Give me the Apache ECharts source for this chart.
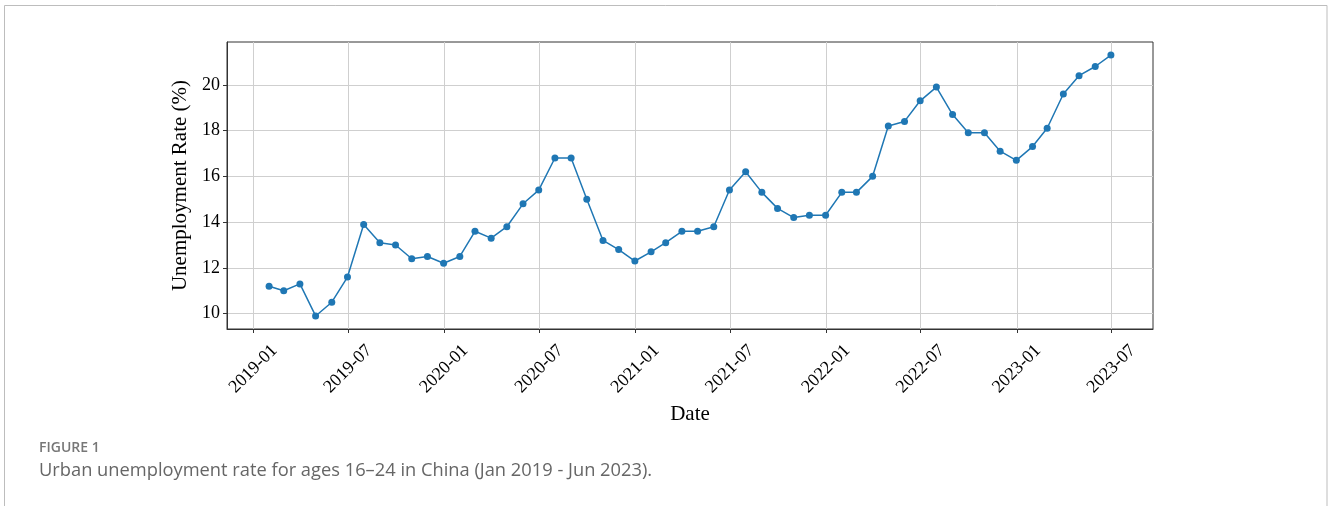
<!DOCTYPE html>
<html>
<head>
<meta charset="utf-8">
<script src="https://cdn.jsdelivr.net/npm/echarts@6/dist/echarts.min.js"></script>
<style>
  html, body { margin: 0; padding: 0; background: #fff; }
  #chart { width: 1328px; height: 506px; }
</style>
</head>
<body>
<div id="chart"></div>
<script>
// Months (each value is plotted at the month's end date, as in the source figure)
const months = [
  '2019-01','2019-02','2019-03','2019-04','2019-05','2019-06','2019-07','2019-08','2019-09','2019-10','2019-11','2019-12',
  '2020-01','2020-02','2020-03','2020-04','2020-05','2020-06','2020-07','2020-08','2020-09','2020-10','2020-11','2020-12',
  '2021-01','2021-02','2021-03','2021-04','2021-05','2021-06','2021-07','2021-08','2021-09','2021-10','2021-11','2021-12',
  '2022-01','2022-02','2022-03','2022-04','2022-05','2022-06','2022-07','2022-08','2022-09','2022-10','2022-11','2022-12',
  '2023-01','2023-02','2023-03','2023-04','2023-05','2023-06'
];
// Urban unemployment rate, ages 16-24 (%)
const rates = [
  11.2, 11.0, 11.3, 9.9, 10.5, 11.6, 13.9, 13.1, 13.0, 12.4, 12.5, 12.2,
  12.5, 13.6, 13.3, 13.8, 14.8, 15.4, 16.8, 16.8, 15.0, 13.2, 12.8, 12.3,
  12.7, 13.1, 13.6, 13.6, 13.8, 15.4, 16.2, 15.3, 14.6, 14.2, 14.3, 14.3,
  15.3, 15.3, 16.0, 18.2, 18.4, 19.3, 19.9, 18.7, 17.9, 17.9, 17.1, 16.7,
  17.3, 18.1, 19.6, 20.4, 20.8, 21.3
];
// X tick labels
const xTickLabels = ['2019-01','2019-07','2020-01','2020-07','2021-01','2021-07','2022-01','2022-07','2023-01','2023-07'];
// Y tick labels
const yTicks = [10, 12, 14, 16, 18, 20];

function monthEnd(ym) {
  const [y, m] = ym.split('-').map(Number);
  return Date.UTC(y, m, 0);
}
function monthStart(ym) {
  const [y, m] = ym.split('-').map(Number);
  return Date.UTC(y, m - 1, 1);
}
const seriesData = months.map((m, i) => [monthEnd(m), rates[i]]);
const xTickValues = xTickLabels.map(monthStart);

// matplotlib-like 5% margins
const xs = seriesData.map(d => d[0]);
const xMin0 = Math.min(...xs), xMax0 = Math.max(...xs);
const xPad = (xMax0 - xMin0) * 0.05;
const yMin0 = Math.min(...rates), yMax0 = Math.max(...rates);
const yPad = (yMax0 - yMin0) * 0.05;

function pad2(n) { return n < 10 ? '0' + n : '' + n; }
function fmtDate(v) {
  const d = new Date(v);
  return d.getUTCFullYear() + '-' + pad2(d.getUTCMonth() + 1);
}

const serif = '"Liberation Serif", "DejaVu Serif", serif';
const chart = echarts.init(document.getElementById('chart'));
chart.setOption({
  animation: false,
  backgroundColor: '#ffffff',
  grid: {
    left: 227, right: 175, top: 42, bottom: 177,
    containLabel: false,
    outerBoundsMode: 'none',
    show: true, borderColor: '#333', borderWidth: 1
  },
  xAxis: {
    type: 'value',
    min: xMin0 - xPad,
    max: xMax0 + xPad,
    name: 'Date',
    nameLocation: 'middle',
    nameGap: 68,
    nameTextStyle: { fontFamily: serif, fontSize: 21, color: '#000' },
    axisLine: { show: true, onZero: false, lineStyle: { color: '#333', width: 1 } },
    axisTick: { show: true, length: 4, lineStyle: { color: '#333' }, customValues: xTickValues },
    axisLabel: {
      customValues: xTickValues,
      formatter: fmtDate,
      rotate: 45,
      align: 'center',
      verticalAlign: 'middle',
      margin: 40,
      fontFamily: serif,
      fontSize: 18,
      color: '#000',
      hideOverlap: false
    },
    splitLine: { show: true, lineStyle: { color: '#cfcfcf', width: 1 } }
  },
  yAxis: {
    type: 'value',
    min: yMin0 - yPad,
    max: yMax0 + yPad,
    name: 'Unemployment Rate (%)',
    nameLocation: 'middle',
    nameRotate: 90,
    nameGap: 27,
    nameTextStyle: { fontFamily: serif, fontSize: 21, color: '#000' },
    axisLine: { show: true, onZero: false, lineStyle: { color: '#333', width: 1 } },
    axisTick: { show: true, length: 4, lineStyle: { color: '#333' }, customValues: yTicks },
    axisLabel: {
      customValues: yTicks,
      margin: 7,
      fontFamily: serif,
      fontSize: 18,
      color: '#000'
    },
    splitLine: { show: true, lineStyle: { color: '#cfcfcf', width: 1 } }
  },
  series: [{
    type: 'line',
    data: seriesData,
    symbol: 'circle',
    symbolSize: 7,
    showSymbol: true,
    lineStyle: { color: '#1f77b4', width: 1.5 },
    itemStyle: { color: '#1f77b4' },
    emphasis: { disabled: true }
  }],
  graphic: [
    {
      type: 'rect',
      shape: { x: 4.5, y: 5.5, width: 1322.5, height: 600 },
      style: { fill: 'none', stroke: '#bdbdbd', lineWidth: 1 },
      silent: true
    },
    {
      type: 'text',
      left: 39, top: 441,
      style: { text: 'FIGURE 1', font: '600 14px "Open Sans", sans-serif', fill: '#777' }
    },
    {
      type: 'text',
      left: 39, top: 462,
      style: { text: 'Urban unemployment rate for ages 16\u201324 in China (Jan 2019 - Jun 2023).', font: '18.3px "Open Sans", sans-serif', fill: '#666' }
    }
  ]
});
</script>
</body>
</html>
